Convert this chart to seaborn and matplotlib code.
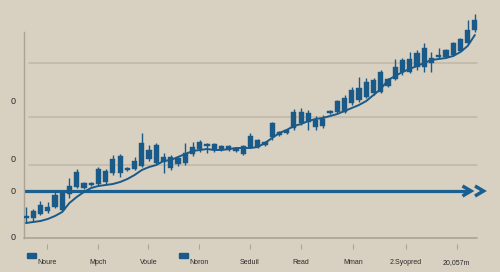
import numpy as np
import pandas as pd
import seaborn as sns
import matplotlib
matplotlib.use("Agg")
import matplotlib.pyplot as plt
from matplotlib.patches import Rectangle
import matplotlib.transforms as mtransforms

# ---------------- data ----------------
opens = [20, 20, 24, 27, 31, 28, 44, 51, 50, 53, 54, 56, 65, 65, 68, 69, 72, 79, 75, 76,
         70, 74, 75, 84, 89, 92, 88, 88, 88, 87, 84, 91, 91, 93, 101, 103, 105, 110, 115, 116,
         111, 112, 125, 126, 126, 135, 138, 141, 145, 146, 152, 159, 166, 166, 171, 171, 175, 181,
         181, 183, 187, 195, 208]
closes = [22, 27, 33, 31, 43, 45, 52, 66, 55, 55, 69, 67, 79, 82, 70, 77, 95, 88, 93, 81,
          81, 80, 85, 91, 96, 94, 94, 92, 92, 89, 92, 102, 98, 96, 115, 106, 108, 126, 126, 125,
          118, 119, 127, 137, 140, 148, 150, 156, 158, 166, 159, 171, 178, 179, 185, 190, 180, 183,
          188, 195, 199, 208, 218]
highs = [31, 29, 37, 36, 46, 47, 60, 69, 56, 56, 71, 69, 83, 84, 71, 81, 105, 93, 95, 85,
         83, 81, 95, 96, 98, 95, 95, 93, 93, 90, 93, 105, 99, 97, 116, 107, 109, 129, 130, 128,
         122, 123, 128, 138, 143, 151, 161, 160, 160, 168, 160, 179, 180, 186, 188, 195, 186, 190,
         189, 196, 200, 218, 224]
lows = [15, 16, 23, 25, 30, 27, 40, 50, 49, 52, 53, 54, 63, 61, 67, 68, 71, 77, 74, 65,
        68, 72, 73, 82, 86, 85, 86, 87, 87, 86, 83, 90, 90, 92, 98, 102, 104, 108, 113, 108,
        108, 110, 124, 125, 125, 133, 136, 140, 143, 145, 151, 158, 163, 165, 168, 166, 166, 180,
        180, 182, 186, 194, 206]
moving_avg = [15, 16, 17, 19, 22, 26, 35, 41, 46, 50, 52, 53, 54, 56, 59, 63, 68, 71, 73, 77,
              78, 81, 84, 87, 88, 89, 88, 88, 89, 90, 90, 90, 91, 95, 100, 105, 108, 112, 114, 117,
              119, 120, 122, 124, 127, 130, 133, 137, 143, 149, 158, 162, 166, 169, 172, 175, 178, 179,
              180, 182, 186, 192, 203]
reference_level = 47
grid_levels = [175, 121, 73]
x_labels = ["Noure", "Mpch", "Voule", "Noron", "Seduil", "Read", "Mman", "2.Syopred", "20,057m"]
labels_with_key = ["Noure", "Noron"]
y_tick_values = [138, 80, 47, 1]
y_tick_labels = ["0", "0", "0", "0"]

# ---------------- layout / style ----------------
x_tick_pos = [2.9, 9.9, 16.9, 23.9, 30.9, 38.0, 45.2, 52.5, 59.5]
BG = "#d8d0c1"
BLUE = "#1a5a89"
ARROW = "#1b5f90"
GRID = "#c0b8aa"
SPINE = "#aaa397"
TXT = "#2b2b2b"

sns.set_theme(style="white", rc={"figure.facecolor": BG, "axes.facecolor": BG})
plt.rcParams["font.family"] = ["Liberation Sans", "DejaVu Sans"]

df = pd.DataFrame({"i": np.arange(len(opens)), "open": opens, "close": closes,
                   "high": highs, "low": lows, "ma": moving_avg})

fig = plt.figure(figsize=(5.0, 2.72), dpi=100)
ax = fig.add_axes([24 / 500, (272 - 238) / 272, 466 / 500, 230 / 272])
ax.set_xlim(-0.276, 64.09)
ax.set_ylim(0, 230)

# grid lines and base line
for g in grid_levels:
    ax.axhline(g, xmin=5 / 466, xmax=453 / 466, color=GRID, lw=1.2, zorder=1)
ax.axhline(0, xmin=0, xmax=453 / 466, color=SPINE, lw=1.2, zorder=1, clip_on=False)

# reference arrow
ax.axhline(reference_level, xmin=0, xmax=443 / 466, color=ARROW, lw=2.3, zorder=2)
px = 7.24  # px per index unit
end_i = (471 - 26) / px
for off in [0, 12.5]:
    tip = end_i + off / px
    ax.plot([tip - 8.5 / px, tip, tip - 8.5 / px],
            [reference_level + 5.0, reference_level, reference_level - 5.0],
            color=ARROW, lw=2.5, solid_capstyle="butt", solid_joinstyle="miter",
            clip_on=False, zorder=3)

# candles
body_lo = np.minimum(df["open"], df["close"])
body_h = np.abs(df["close"] - df["open"]).clip(lower=1.6)
ax.vlines(df["i"], df["low"], df["high"], color=BLUE, lw=1.0, zorder=4)
ax.bar(df["i"], body_h, bottom=body_lo, width=0.72, color=BLUE, edgecolor=BLUE,
       linewidth=0.3, zorder=5)

# moving average line
sns.lineplot(data=df, x="i", y="ma", ax=ax, color=BLUE, lw=1.4, zorder=6)

# spines / ticks
for s in ["top", "right", "bottom"]:
    ax.spines[s].set_visible(False)
ax.spines["left"].set_color(SPINE)
ax.spines["left"].set_linewidth(1.0)
ax.spines["left"].set_bounds(0, 206)

ax.set_yticks(y_tick_values)
ax.set_yticklabels(y_tick_labels)
ax.tick_params(axis="y", direction="in", length=2.5, width=0.8, color=SPINE,
               labelsize=6.5, labelcolor=TXT, pad=6)

ax.set_xticks(x_tick_pos)
ax.set_xticklabels(x_labels)
ax.tick_params(axis="x", direction="out", length=3.5, width=0.8, color=SPINE,
               labelsize=5, labelcolor=TXT, pad=7.5, bottom=True)
ax.xaxis.set_ticks_position("bottom")
ax.spines["bottom"].set_position(("outward", 4))
ax.set_xlabel("")
ax.set_ylabel("")

# coloured keys beside some labels
trans = mtransforms.blended_transform_factory(ax.transData, ax.transAxes)
for lab in labels_with_key:
    t = x_tick_pos[x_labels.index(lab)]
    ax.add_patch(Rectangle((t - 2.8, -0.085), 9 / px, 0.019, transform=trans,
                           color=BLUE, clip_on=False))

fig.savefig("out.png", dpi=100, facecolor=BG)
